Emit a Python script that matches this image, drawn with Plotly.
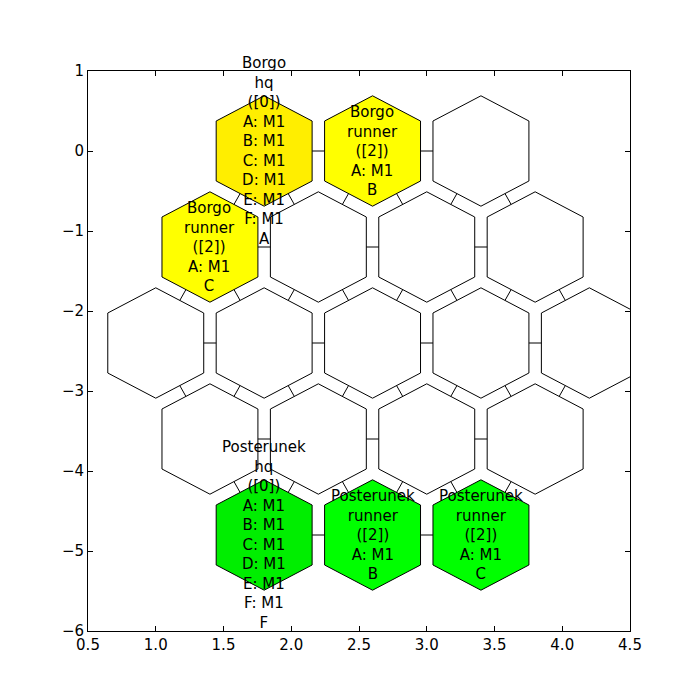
import plotly.graph_objects as go

# hex cell centres (data units) and their contents
cell_x = [1.8, 2.6, 3.4,
          1.4, 2.2, 3.0, 3.8,
          1.0, 1.8, 2.6, 3.4, 4.2,
          1.4, 2.2, 3.0, 3.8,
          1.8, 2.6, 3.4]
cell_y = [0.0] * 3 + [-1.2] * 4 + [-2.4] * 5 + [-3.6] * 4 + [-4.8] * 3

hq_b = "Borgo<br>hq<br>([0])<br>A: M1<br>B: M1<br>C: M1<br>D: M1<br>E: M1<br>F: M1<br>A"
hq_p = "Posterunek<br>hq<br>([0])<br>A: M1<br>B: M1<br>C: M1<br>D: M1<br>E: M1<br>F: M1<br>F"
cell_text = [hq_b, "Borgo<br>runner<br>([2])<br>A: M1<br>B", "",
             "Borgo<br>runner<br>([2])<br>A: M1<br>C", "", "", "",
             "", "", "", "", "",
             "", "", "", "",
             hq_p, "Posterunek<br>runner<br>([2])<br>A: M1<br>B",
             "Posterunek<br>runner<br>([2])<br>A: M1<br>C"]
cell_color = ["#ffee00", "#ffff00", "white",
              "#ffff00", "white", "white", "white",
              "white", "white", "white", "white", "white",
              "white", "white", "white", "white",
              "#00ee00", "#00ff00", "#00ff00"]

HX, HY, HS = 0.354, 0.69, 0.375
hex_dx = [0, HX, HX, 0, -HX, -HX, 0]
hex_dy = [HY, HS, -HS, -HY, -HS, HS, HY]

fig = go.Figure()

# neighbour links behind the cells
lx, ly = [], []
n = len(cell_x)
for i in range(n):
    for j in range(i + 1, n):
        dx = abs(cell_x[i] - cell_x[j])
        dy = abs(cell_y[i] - cell_y[j])
        if (dy < 0.01 and abs(dx - 0.8) < 0.01) or (abs(dy - 1.2) < 0.01 and abs(dx - 0.4) < 0.01):
            lx += [cell_x[i], cell_x[j], None]
            ly += [cell_y[i], cell_y[j], None]
fig.add_trace(go.Scatter(x=lx, y=ly, mode="lines", line=dict(color="black", width=1),
                         hoverinfo="skip", showlegend=False))

for cx, cy, col in zip(cell_x, cell_y, cell_color):
    fig.add_trace(go.Scatter(x=[cx + d for d in hex_dx], y=[cy + d for d in hex_dy],
                             mode="lines", fill="toself", fillcolor=col,
                             line=dict(color="black", width=1),
                             hoverinfo="skip", showlegend=False))

for cx, cy, t in zip(cell_x, cell_y, cell_text):
    if t:
        fig.add_annotation(x=cx, y=cy, text=t, showarrow=False,
                           font=dict(size=15, color="black"), align="center")

axis = dict(showgrid=False, zeroline=False, showline=True, mirror="ticks",
            linecolor="black", ticks="inside", ticklen=5, tickcolor="black",
            tickfont=dict(size=15))
fig.update_xaxes(range=[0.5, 4.5], dtick=0.5, tickformat=".1f", **axis)
fig.update_yaxes(range=[-6, 1], dtick=1, **axis)
fig.update_layout(width=700, height=700, margin=dict(l=80, r=78, t=63, b=77),
                  plot_bgcolor="white", paper_bgcolor="white",
                  font=dict(family="DejaVu Sans", size=15, color="black"))
fig.write_html("out.html")
